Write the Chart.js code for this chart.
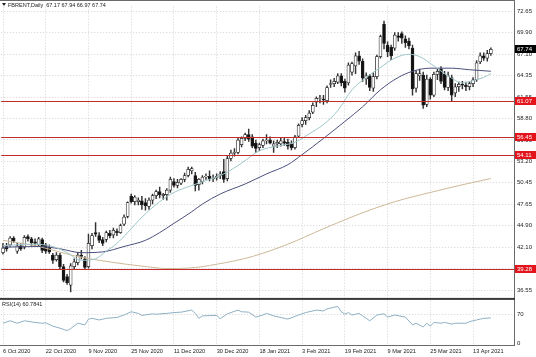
<!DOCTYPE html>
<html><head><meta charset="utf-8">
<script src="https://cdn.jsdelivr.net/npm/chart.js@4.4.1/dist/chart.umd.min.js"></script>
<style>html,body{margin:0;padding:0;background:#fff;overflow:hidden}canvas{display:block}</style>
</head><body>
<canvas id="c" width="536" height="357"></canvas>
<script>
const barDates = [
'2020-10-06','2020-10-07','2020-10-08','2020-10-09','2020-10-12','2020-10-13','2020-10-14','2020-10-15','2020-10-16','2020-10-19','2020-10-20','2020-10-21','2020-10-22','2020-10-23','2020-10-26','2020-10-27','2020-10-28','2020-10-29','2020-10-30',
'2020-11-02','2020-11-03','2020-11-04','2020-11-05','2020-11-06','2020-11-09','2020-11-10','2020-11-11','2020-11-12','2020-11-13','2020-11-16','2020-11-17','2020-11-18','2020-11-19','2020-11-20','2020-11-23','2020-11-24','2020-11-25','2020-11-26','2020-11-27','2020-11-30',
'2020-12-01','2020-12-02','2020-12-03','2020-12-04','2020-12-07','2020-12-08','2020-12-09','2020-12-10','2020-12-11','2020-12-14','2020-12-15','2020-12-16','2020-12-17','2020-12-18','2020-12-21','2020-12-22','2020-12-23','2020-12-24','2020-12-28','2020-12-29','2020-12-30','2020-12-31',
'2021-01-04','2021-01-05','2021-01-06','2021-01-07','2021-01-08','2021-01-11','2021-01-12','2021-01-13','2021-01-14','2021-01-15','2021-01-18','2021-01-19','2021-01-20','2021-01-21','2021-01-22','2021-01-25','2021-01-26','2021-01-27','2021-01-28','2021-01-29',
'2021-02-01','2021-02-02','2021-02-03','2021-02-04','2021-02-05','2021-02-08','2021-02-09','2021-02-10','2021-02-11','2021-02-12','2021-02-15','2021-02-16','2021-02-17','2021-02-18','2021-02-19','2021-02-22','2021-02-23','2021-02-24','2021-02-25','2021-02-26',
'2021-03-01','2021-03-02','2021-03-03','2021-03-04','2021-03-05','2021-03-08','2021-03-09','2021-03-10','2021-03-11','2021-03-12','2021-03-15','2021-03-16','2021-03-17','2021-03-18','2021-03-19','2021-03-22','2021-03-23','2021-03-24','2021-03-25','2021-03-26','2021-03-29','2021-03-30','2021-03-31',
'2021-04-01','2021-04-05','2021-04-06','2021-04-07','2021-04-08','2021-04-09','2021-04-12','2021-04-13','2021-04-14','2021-04-15','2021-04-16','2021-04-19','2021-04-20'];

const opens = [41.4,42.2,42.4,43.3,41.6,42.3,42.1,43.5,43.2,42.8,42.4,43.1,42.4,42.1,41.1,40.5,41.1,39.6,38.3,
37.2,39.6,40.1,41.1,40.6,39.6,42.3,44.0,43.6,43.1,43.1,43.9,43.7,44.2,44.0,45.1,46.1,48.7,48.0,48.0,48.1,
47.9,47.4,48.2,48.8,49.3,48.8,48.9,49.5,50.6,50.1,50.4,50.9,51.4,52.0,51.4,50.2,50.6,51.2,51.3,51.0,51.1,51.4,
51.9,51.0,53.6,54.3,54.4,55.4,56.2,56.7,56.4,55.6,55.0,55.3,55.9,56.0,55.2,55.5,55.5,55.8,55.7,55.5,
55.0,56.5,58.0,58.5,58.9,59.6,60.9,61.4,61.3,61.1,63.2,63.3,63.5,64.3,63.6,63.4,64.8,65.6,66.9,66.2,
63.9,64.3,62.7,64.2,66.8,71.0,68.3,68.0,67.9,69.5,69.8,69.1,68.8,67.9,62.7,64.3,64.4,60.6,63.9,61.8,64.5,65.2,64.5,
62.8,64.1,62.1,62.9,63.2,63.1,62.9,63.3,63.8,66.1,66.9,66.6,67.17];
const highs = [42.6,42.6,43.5,43.5,42.6,42.6,43.6,43.7,43.4,43.2,43.4,43.3,42.6,42.4,41.3,41.4,41.3,39.9,38.6,
40.0,40.6,41.4,41.7,40.9,43.8,43.9,45.3,44.0,43.4,44.2,44.3,44.6,44.5,45.1,46.3,48.0,49.0,48.8,48.5,48.7,
48.4,48.5,49.0,49.5,49.9,49.1,49.7,51.2,51.0,50.9,51.0,51.7,52.5,52.5,51.8,51.0,51.4,51.6,52.0,51.5,51.6,51.9,
53.5,54.0,54.7,54.9,56.3,56.4,56.9,57.4,56.7,56.0,55.6,56.1,56.7,56.4,55.9,56.0,56.2,56.2,56.1,55.9,
56.6,58.1,58.9,59.2,59.8,60.8,61.6,61.8,61.8,63.0,63.8,64.0,64.6,64.6,63.9,66.0,66.1,67.3,67.5,66.5,
64.7,64.5,64.7,67.0,69.6,71.4,68.7,68.3,69.9,69.9,70.0,69.5,69.2,68.3,65.0,65.2,64.8,64.4,64.1,64.8,65.2,65.5,64.9,
64.8,64.4,63.3,63.5,63.6,63.5,63.6,64.1,66.3,67.3,67.3,67.6,67.94];
const lows = [41.2,41.6,42.2,42.7,41.3,41.7,41.9,42.9,42.3,42.3,42.2,41.4,41.3,41.3,40.0,40.3,39.3,37.6,37.3,
36.3,39.2,39.8,40.6,39.3,39.4,41.9,43.5,42.7,42.3,42.8,43.3,43.3,43.6,43.9,44.9,45.9,47.8,47.6,47.6,47.0,
46.9,47.0,47.7,48.4,48.5,48.3,48.2,49.2,49.9,49.8,50.2,50.6,51.2,51.6,49.4,49.5,50.3,50.9,50.7,50.6,50.8,51.0,
50.5,50.7,53.3,53.9,54.2,55.1,55.9,55.8,55.0,54.4,54.6,55.0,55.5,55.5,54.4,55.0,55.2,55.3,54.8,54.7,
54.8,56.3,57.7,58.0,58.6,59.4,60.3,60.8,60.6,60.8,62.8,62.9,63.3,63.0,62.2,63.1,64.4,64.6,65.8,63.6,
63.2,62.4,62.3,63.9,66.6,67.8,66.8,66.4,67.6,68.8,68.5,68.0,67.8,61.8,62.2,63.7,60.1,60.3,61.3,61.6,63.8,63.3,62.5,
62.4,61.0,61.6,62.3,62.6,62.4,62.5,62.9,63.6,65.9,66.3,66.2,66.97];
const closes = [42.0,41.9,43.3,42.9,42.3,41.9,43.4,43.2,42.7,42.6,43.2,41.7,41.6,41.5,40.4,41.1,39.6,37.8,37.5,
39.7,40.2,41.1,40.9,39.5,42.6,43.6,43.8,43.0,42.6,44.0,43.6,44.3,44.0,44.9,46.0,47.9,48.0,48.6,48.2,47.6,
47.5,48.2,48.8,49.3,48.9,48.95,49.5,50.9,50.1,50.5,50.9,51.4,52.2,52.3,50.1,50.9,51.2,51.3,51.0,51.1,51.3,51.6,
50.9,53.6,54.3,54.4,56.0,56.2,56.7,56.1,55.2,54.9,55.4,55.9,56.0,55.6,55.5,55.7,55.9,55.6,55.2,55.0,
56.4,57.9,58.5,58.9,59.5,60.5,61.4,61.45,61.2,62.8,63.3,63.6,64.3,63.4,62.7,65.7,65.9,66.9,66.2,64.0,
64.3,62.8,64.2,66.8,69.4,68.5,67.4,66.9,69.6,69.3,69.2,68.6,68.2,62.6,64.6,64.6,60.5,63.9,61.8,64.5,64.9,63.6,62.8,
64.3,61.8,62.9,63.2,63.1,62.9,63.3,63.8,66.0,66.9,66.6,67.2,67.74];

// moving averages: [bar index, value]
const maFast = [[0,42.3],[8,42.5],[14,42.2],[18,41.4],[22,40.4],[26,40.6],[29,41.6],[32,42.6],[35,44.0],[39,46.0],[44,48.0],[48,49.2],[53,50.1],[58,50.9],[62,51.6],[67,53.0],[72,54.6],[77,55.2],[82,55.7],[86,56.8],[90,58.0],[94,59.8],[98,62.5],[102,64.1],[106,65.4],[110,66.6],[114,67.1],[117,66.8],[121,65.6],[125,64.3],[129,63.4],[132,63.7],[135,64.1],[137,64.6]];
const maSlow = [[0,42.1],[10,42.2],[16,41.9],[22,41.4],[28,41.5],[34,42.2],[40,43.0],[44,44.0],[48,45.2],[53,46.7],[56,47.7],[61,49.0],[68,50.3],[74,51.6],[80,52.8],[84,54.1],[90,56.2],[96,58.4],[101,60.3],[106,62.5],[111,64.1],[115,64.9],[120,65.3],[126,65.3],[131,65.1],[137,64.9]];
const ma200 = [[0,43.0],[10,42.2],[20,41.0],[30,40.2],[40,39.6],[46,39.35],[52,39.4],[60,39.9],[70,40.9],[80,42.5],[90,44.5],[100,46.4],[110,48.0],[120,49.2],[130,50.3],[137,51.0]];
const rsi = [[0,48],[2,54],[4,48],[6,54],[9,50],[11,48],[12,49],[14,41],[16,36],[18,30],[19,35],[21,48],[23,44],[24,58],[25,60],[27,56],[29,60],[32,62],[34,68],[36,76],[38,72],[39,67],[42,71],[43,70],[46,72],[48,74],[50,75],[53,80],[54,72],[55,60],[56,66],[60,67],[61,59],[63,71],[66,80],[67,76],[69,75],[71,63],[73,68],[74,72],[76,66],[80,58],[83,68],[85,74],[88,80],[90,78],[91,83],[94,89],[95,76],[96,70],[97,74],[98,68],[100,72],[101,66],[103,54],[105,68],[107,71],[108,63],[110,68],[113,63],[115,44],[116,48],[118,39],[119,48],[120,41],[121,50],[123,48],[124,50],[126,46],[127,48],[130,48],[131,52],[133,56],[134,58],[135,60],[137,61]];
const rsiLast = '60.7841';

const priceTicks = [36.55,39.35,42.10,44.90,47.65,50.45,53.20,56.00,58.80,61.55,64.35,67.10,69.90,72.65];
const rsiTicks = [0,30,70,100];
const tickLabels = ['6 Oct 2020','22 Oct 2020','9 Nov 2020','25 Nov 2020','11 Dec 2020','30 Dec 2020','18 Jan 2021','3 Feb 2021','19 Feb 2021','9 Mar 2021','25 Mar 2021','13 Apr 2021'];
const levels = [61.07, 56.45, 54.11, 39.28];
const symbol = 'FBRENT,Daily';

const MON = ['Jan','Feb','Mar','Apr','May','Jun','Jul','Aug','Sep','Oct','Nov','Dec'];
function fmt(d){ const p=d.split('-'); return (+p[2])+' '+MON[+p[1]-1]+' '+p[0]; }
const SLOTS = 144;
const labels = [];
for (let i=0;i<SLOTS;i++) labels.push(i<barDates.length ? fmt(barDates[i]) : '');

function sparse(pairs){ const a = new Array(barDates.length).fill(null); pairs.forEach(p=>{a[p[0]]=p[1];}); return a; }

const FONT = 'Liberation Sans';
Chart.defaults.font.family = FONT;
Chart.defaults.color = '#222';

const grid = '#d2d2d2';

const deco = {
  id:'deco',
  afterDatasetsDraw(chart){
    const c = chart.ctx, a = chart.chartArea, y = chart.scales.y;
    c.save();
    c.fillStyle = '#c42b2b';
    levels.forEach(v=>{ const py = Math.round(y.getPixelForValue(v)); c.fillRect(a.left, py, a.right-a.left, 1); });
    c.restore();
  },
  afterDraw(chart){
    const c = chart.ctx, a = chart.chartArea, y = chart.scales.y, yr = chart.scales.yr;
    c.save();
    c.fillStyle = '#6a6a6a';
    c.fillRect(0, 0, a.right+1, 1);
    c.fillRect(a.right, 0, 1, a.bottom+1);
    c.fillRect(0, a.bottom, a.right+1, 1);
    c.fillStyle = '#3a3a3a';
    c.fillRect(0, y.bottom-1, a.right+1, 2);
    c.font = '6px '+FONT; c.textBaseline = 'middle'; c.textAlign = 'left';
    levels.forEach(v=>{ const py = Math.round(y.getPixelForValue(v)); c.fillStyle = '#e3141c'; c.fillRect(a.right+1, py-4, 21, 8); c.fillStyle = '#fff'; c.fillText(v.toFixed(2), a.right+3, py+0.5); });
    const last = closes[closes.length-1];
    const pl = Math.round(y.getPixelForValue(last));
    c.fillStyle = '#000'; c.fillRect(a.right+1, pl-4, 21, 8); c.fillStyle = '#fff'; c.fillText(last.toFixed(2), a.right+3, pl+0.5);
    c.fillStyle = '#222';
    c.beginPath(); c.moveTo(2,3); c.lineTo(6,3); c.lineTo(4,6); c.closePath(); c.fill();
    c.font = '5.5px '+FONT;
    const n = opens.length-1;
    c.fillText(symbol+'  '+[opens[n],highs[n],lows[n],closes[n]].map(v=>v.toFixed(2)).join(' '), 8, 5);
    c.fillText('RSI(14) '+rsiLast, 2, yr.top+6);
    c.restore();
  }
};

new Chart(document.getElementById('c'), {
  type:'bar',
  data:{
    labels,
    datasets:[
      {type:'line', label:'fast', data:sparse(maFast), yAxisID:'y', borderColor:'#9ec6ca', borderWidth:1, pointRadius:0, spanGaps:true, cubicInterpolationMode:'monotone', order:1},
      {type:'line', label:'slow', data:sparse(maSlow), yAxisID:'y', borderColor:'#4b4f7c', borderWidth:1, pointRadius:0, spanGaps:true, cubicInterpolationMode:'monotone', order:1},
      {type:'line', label:'ma200', data:sparse(ma200), yAxisID:'y', borderColor:'#cdb899', borderWidth:1, pointRadius:0, spanGaps:true, cubicInterpolationMode:'monotone', order:1},
      {type:'line', label:'rsi', data:sparse(rsi), yAxisID:'yr', borderColor:'#8fb0c4', borderWidth:1, pointRadius:0, spanGaps:true, tension:0, order:1},
      {label:'body', data:opens.map((o,i)=>[o, Math.abs(closes[i]-o)<0.04 ? o+0.04 : closes[i]]), yAxisID:'y',
        backgroundColor:closes.map((c,i)=> c>=opens[i] ? '#ffffff' : '#111111'), borderColor:'#222', borderWidth:0.75, borderSkipped:false,
        barThickness:3, grouped:false, order:2},
      {label:'wick', data:lows.map((l,i)=>[l, highs[i]]), yAxisID:'y', backgroundColor:'#333', borderWidth:0, barThickness:0.8, grouped:false, order:3}
    ]
  },
  options:{
    responsive:false, animation:false, devicePixelRatio:1,
    layout:{padding:0},
    plugins:{legend:{display:false}, tooltip:{enabled:false}},
    scales:{
      x:{type:'category', position:'bottom', offset:true,
        grid:{offset:false, color:grid, drawTicks:false}, border:{display:false, dash:[1,2]},
        ticks:{autoSkip:false, maxRotation:0, minRotation:0, align:'start', padding:3, font:{size:5.6}, color:'#222'},
        afterBuildTicks:s=>{ s.ticks = s.ticks.filter(t=>tickLabels.includes(labels[t.value])); },
        afterFit:s=>{ s.height = 12; }
      },
      y:{position:'right', stack:'p', stackWeight:298, weight:0, min:35.41, max:73.28,
        grid:{color:grid, drawTicks:false}, border:{display:false, dash:[1,2]},
        ticks:{padding:3, font:{size:6}, color:'#222', callback:v=>Number(v).toFixed(2)},
        afterBuildTicks:s=>{ s.ticks = priceTicks.map(v=>({value:v})); },
        afterFit:s=>{ s.width = 22; }
      },
      yr:{position:'right', stack:'p', stackWeight:47, weight:1, min:-5, max:107.3,
        grid:{color:ctx=> (ctx.tick && (ctx.tick.value===30||ctx.tick.value===70)) ? grid : 'rgba(0,0,0,0)', drawTicks:false}, border:{display:false, dash:[1,2]},
        ticks:{padding:3, font:{size:6}, color:'#222', callback:v=>String(v)},
        afterBuildTicks:s=>{ s.ticks = rsiTicks.map(v=>({value:v})); },
        afterFit:s=>{ s.width = 22; }
      }
    }
  },
  plugins:[deco]
});
</script>
</body></html>
